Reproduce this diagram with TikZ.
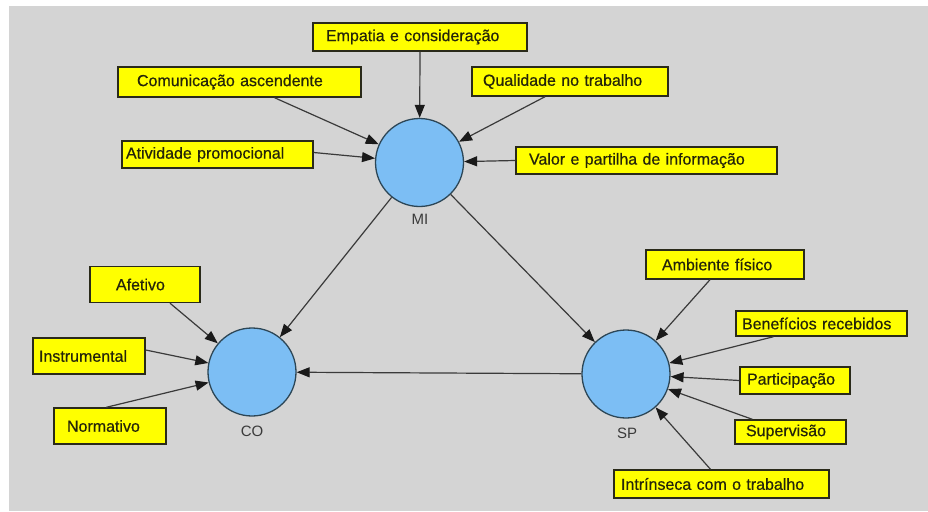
\documentclass[tikz,border=0pt]{standalone}
\usepackage{fontspec}
\setmainfont{Liberation Sans}
\newfontfamily\boxfont[FakeBold=0.5]{Liberation Sans}
\usetikzlibrary{arrows.meta}
\definecolor{canvas}{HTML}{D4D4D4}
\definecolor{boxfill}{HTML}{FFFF00}
\definecolor{boxline}{HTML}{2A2A1A}
\definecolor{boxtext}{HTML}{24240A}
\definecolor{latfill}{HTML}{7CBEF4}
\definecolor{latline}{HTML}{2C4656}
\definecolor{linkcol}{HTML}{3A3A3A}
\definecolor{tipcol}{HTML}{1A1A1A}
\begin{document}
\begin{tikzpicture}[x=1pt,y=-1pt,
  indicator/.style={draw=boxline, fill=boxfill, line width=1.4pt, inner ysep=0pt,
    minimum height=28pt, text=boxtext, align=left,
    font=\boxfont\fontsize{16}{16}\selectfont},
  construct/.style={circle, draw=latline, fill=latfill, line width=1.3pt,
    minimum size=88pt, inner sep=0pt},
  latlabel/.style={text=linkcol, font=\fontsize{15}{15}\selectfont, inner sep=0pt},
  link/.style={draw=linkcol, line width=1.2pt,
    -{Triangle[length=13pt,width=10pt,color=tipcol]}}]
\useasboundingbox (0,0) rectangle (928,511);
\fill[canvas] (9,6) rectangle (928,511);

% latent constructs
\node[construct] (mi) at (419.5,162.5) {};
\node[construct] (co) at (252,372) {};
\node[construct] (sp) at (626,374) {};
\node[latlabel] (milab) at (420,219) {MI};
\node[latlabel] (colab) at (252,431) {CO};
\node[latlabel] (splab) at (627,433) {SP};

% indicators of MI  (inner xsep = left padding, text width = width - 2 x padding)
\node[indicator, inner xsep=13pt, text width=188pt] (empatia) at (420,37) {Empatia e consideração};
\node[indicator, inner xsep=19pt, text width=205pt, minimum height=30pt] (comunic) at (239.5,82) {Comunicação ascendente};
\node[indicator, inner xsep=11pt, text width=174pt, minimum height=29pt] (qualid) at (570,81.5) {Qualidade no trabalho};
\node[indicator, inner xsep=4pt, text width=183pt, minimum height=27pt] (ativid) at (217.5,154.5) {Atividade promocional};
\node[indicator, inner xsep=13pt, text width=235pt, minimum height=27pt] (valor) at (646.5,160.5) {Valor e partilha de informação};

% indicators of SP
\node[indicator, inner xsep=16pt, text width=126pt, minimum height=29pt] (ambiente) at (725,264.5) {Ambiente físico};
\node[indicator, inner xsep=6pt, text width=159pt, minimum height=25pt] (benef) at (821.5,323.5) {Benefícios recebidos};
\node[indicator, inner xsep=7pt, text width=96pt, minimum height=27pt] (partic) at (795,380.5) {Participação};
\node[indicator, inner xsep=11pt, text width=89pt, minimum height=24pt] (superv) at (790.5,432) {Supervisão};
\node[indicator, inner xsep=7pt, text width=201pt] (intrins) at (721.5,484) {Intrínseca com o trabalho};

% indicators of CO
\node[indicator, inner xsep=26pt, text width=58pt, minimum height=36pt] (afetivo) at (145,284.5) {Afetivo};
\node[indicator, inner xsep=6pt, text width=100pt, minimum height=36pt] (instrum) at (89,356) {Instrumental};
\node[indicator, inner xsep=13pt, text width=86pt, minimum height=36pt] (normat) at (110,426) {Normativo};

% structural paths
\draw[link] (mi) -- (co);
\draw[link] (mi) -- (sp);
\draw[link] (sp) -- (co);

% measurement arrows into MI
\draw[link] (empatia.south) -- (mi);
\draw[link] ([xshift=35pt]comunic.south) -- (mi);
\draw[link] ([xshift=-25pt]qualid.south) -- (mi);
\draw[link] ([yshift=2pt]ativid.east) -- (mi);
\draw[link] (valor.west) -- (mi);

% measurement arrows into SP
\draw[link] ([xshift=-15pt]ambiente.south) -- (sp);
\draw[link] ([xshift=-48pt]benef.south) -- (sp);
\draw[link] (partic.west) -- (sp);
\draw[link] ([xshift=18pt]superv.north west) -- (sp);
\draw[link] ([xshift=-11pt]intrins.north) -- (sp);

% measurement arrows into CO
\draw[link] ([xshift=25pt]afetivo.south) -- (co);
\draw[link] ([yshift=6pt]instrum.east) -- (co);
\draw[link] ([xshift=53pt]normat.north west) -- (co);
\end{tikzpicture}
\end{document}
